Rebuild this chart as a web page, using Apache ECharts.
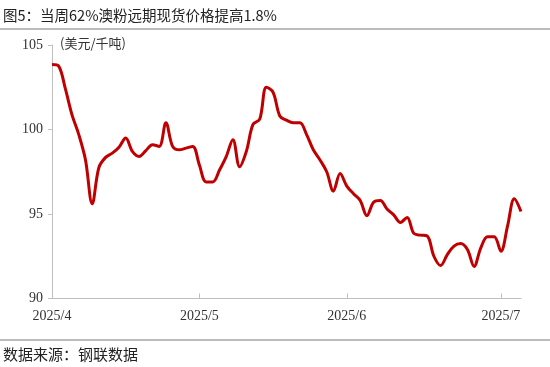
<!DOCTYPE html>
<html>
<head>
<meta charset="utf-8">
<script src="https://cdn.jsdelivr.net/npm/echarts@6/dist/echarts.min.js"></script>
<style>html,body{margin:0;padding:0;background:#fff;}#c{width:550px;height:367px;}</style>
</head>
<body>
<div id="c"></div>
<script>
var dates = [
'2025-04-01','2025-04-02','2025-04-03','2025-04-04','2025-04-07','2025-04-08','2025-04-09','2025-04-10','2025-04-11','2025-04-14','2025-04-15',
'2025-04-16','2025-04-17','2025-04-18','2025-04-21','2025-04-22','2025-04-23','2025-04-24','2025-04-25','2025-04-28','2025-04-29','2025-04-30',
'2025-05-01','2025-05-02','2025-05-05','2025-05-06','2025-05-07','2025-05-08','2025-05-09','2025-05-12','2025-05-13','2025-05-14','2025-05-15',
'2025-05-16','2025-05-19','2025-05-20','2025-05-21','2025-05-22','2025-05-23','2025-05-26','2025-05-27','2025-05-28','2025-05-29','2025-05-30',
'2025-06-01','2025-06-02','2025-06-03','2025-06-04','2025-06-05','2025-06-06','2025-06-09','2025-06-10','2025-06-11','2025-06-12','2025-06-13',
'2025-06-16','2025-06-17','2025-06-18','2025-06-19','2025-06-20','2025-06-23','2025-06-24','2025-06-25','2025-06-26','2025-06-27','2025-06-29','2025-06-30',
'2025-07-01','2025-07-02','2025-07-03','2025-07-04'
];
var prices = [
103.85, 103.75, 102.4, 100.85, 99.7, 98.2, 95.6, 97.75, 98.35, 98.6,
98.95, 99.5, 98.7, 98.4, 98.75, 99.1, 99.0, 100.4, 99.0, 98.8,
98.9, 99.0, 97.9, 96.9, 96.9, 97.6, 98.4, 99.4, 97.8, 98.7,
100.3, 100.6, 102.5, 102.2, 100.8, 100.55, 100.4, 100.4, 99.7, 98.8,
98.2, 97.5, 96.35, 97.4, 96.65, 96.2, 95.8, 94.9, 95.7, 95.8,
95.3, 94.95, 94.5, 94.8, 93.85, 93.75, 93.7, 92.5, 91.95, 92.6,
93.1, 93.25, 92.9, 91.9, 93.0, 93.65, 93.65, 92.8, 94.3, 95.9,
95.15
];
var yTicks = [90, 95, 100, 105];
var titleText = '图5：当周62%澳粉远期现货价格提高1.8%';
var unitText = '(美元/千吨)';
var sourceText = '数据来源：钢联数据';

function isMonthStart(idx) {
  return idx === 0 || dates[idx - 1].slice(5, 7) !== dates[idx].slice(5, 7);
}

var chart = echarts.init(document.getElementById('c'), null, {renderer: 'canvas'});
chart.setOption({
  animation: false,
  backgroundColor: '#fff',
  title: [
    {text: titleText, left: 3, top: 8, padding: 0, textStyle: {fontFamily: 'Noto Sans CJK SC', fontSize: 14.5, fontWeight: 'normal', color: '#222'}},
    {text: sourceText, left: 3, top: 347, padding: 0, textStyle: {fontFamily: 'Noto Sans CJK SC', fontSize: 15, fontWeight: 'normal', color: '#222'}}
  ],
  graphic: [
    {type: 'line', shape: {x1: 0, y1: 29, x2: 550, y2: 29}, style: {stroke: '#a6a6a6', lineWidth: 1.5}},
    {type: 'line', shape: {x1: 0, y1: 340, x2: 550, y2: 340}, style: {stroke: '#a6a6a6', lineWidth: 1.5}},
    {type: 'text', left: 60, top: 37, style: {text: unitText, font: '13px "Noto Sans CJK SC"', fill: '#333'}}
  ],
  grid: {left: 52, right: 29, top: 45, bottom: 68.5, containLabel: false},
  xAxis: {
    type: 'category',
    data: dates,
    boundaryGap: false,
    axisLine: {lineStyle: {color: '#bfbfbf', width: 1}},
    axisTick: {show: true, inside: true, length: 5, interval: function (i) { return isMonthStart(i) && i > 0; }, lineStyle: {color: '#bfbfbf'}},
    axisLabel: {
      interval: function (i) { return isMonthStart(i); },
      formatter: function (v) { return v.slice(0, 4) + '/' + parseInt(v.slice(5, 7), 10); },
      fontFamily: 'Liberation Serif', fontSize: 14, color: '#333', margin: 11
    },
    splitLine: {show: false}
  },
  yAxis: {
    type: 'value',
    min: yTicks[0], max: yTicks[yTicks.length - 1], interval: 5,
    axisLine: {show: true, lineStyle: {color: '#bfbfbf', width: 1}},
    axisTick: {show: true, length: 4, lineStyle: {color: '#bfbfbf'}},
    axisLabel: {fontFamily: 'Liberation Serif', fontSize: 14, color: '#333', margin: 9},
    splitLine: {show: false}
  },
  series: [{
    type: 'line',
    data: prices,
    smooth: 0.35,
    symbol: 'none',
    lineStyle: {color: '#c00000', width: 3},
    itemStyle: {color: '#c00000'}
  }]
});
</script>
</body>
</html>
